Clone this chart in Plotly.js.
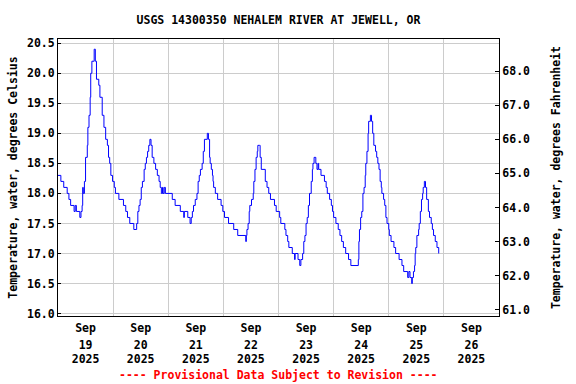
<!DOCTYPE html>
<html>
<head>
<meta charset="utf-8">
<script src="https://cdn.plot.ly/plotly-3.0.1.min.js"></script>
<style>html,body{margin:0;padding:0;background:#fff;}#chart{width:576px;height:384px;}</style>
</head>
<body>
<div id="chart"></div>
<script>
// Observation times (local) and water temperature, degrees Celsius
const times = [
"2025-09-19 00:00","2025-09-19 01:15","2025-09-19 02:30","2025-09-19 04:00","2025-09-19 04:45","2025-09-19 05:30",
"2025-09-19 07:00","2025-09-19 07:30","2025-09-19 08:00","2025-09-19 09:30","2025-09-19 10:00","2025-09-19 10:30",
"2025-09-19 10:45","2025-09-19 11:00","2025-09-19 11:30","2025-09-19 12:00","2025-09-19 12:45","2025-09-19 13:00",
"2025-09-19 13:30","2025-09-19 14:00","2025-09-19 14:15","2025-09-19 14:45","2025-09-19 15:45","2025-09-19 16:15",
"2025-09-19 16:45","2025-09-19 17:45","2025-09-19 18:15","2025-09-19 19:15","2025-09-19 20:00","2025-09-19 20:45",
"2025-09-19 21:30","2025-09-19 22:00","2025-09-19 22:30","2025-09-19 23:00","2025-09-19 23:45",
"2025-09-20 00:30","2025-09-20 01:00","2025-09-20 02:30","2025-09-20 04:30","2025-09-20 05:30","2025-09-20 06:15",
"2025-09-20 07:15","2025-09-20 09:00","2025-09-20 10:15","2025-09-20 10:45","2025-09-20 11:15","2025-09-20 11:45",
"2025-09-20 12:15","2025-09-20 12:45","2025-09-20 13:30","2025-09-20 14:00","2025-09-20 14:30","2025-09-20 15:00",
"2025-09-20 15:30","2025-09-20 16:00","2025-09-20 16:30","2025-09-20 17:00","2025-09-20 17:45","2025-09-20 18:30",
"2025-09-20 19:15","2025-09-20 20:00","2025-09-20 20:30","2025-09-20 21:00","2025-09-20 21:30","2025-09-20 21:45",
"2025-09-20 22:15","2025-09-20 22:45",
"2025-09-21 01:45","2025-09-21 03:00","2025-09-21 05:15","2025-09-21 06:45","2025-09-21 07:00","2025-09-21 08:30",
"2025-09-21 09:30","2025-09-21 10:00","2025-09-21 10:30","2025-09-21 11:00","2025-09-21 11:45","2025-09-21 12:30",
"2025-09-21 13:00","2025-09-21 13:30","2025-09-21 14:00","2025-09-21 14:45","2025-09-21 15:15","2025-09-21 15:45",
"2025-09-21 17:00","2025-09-21 17:30","2025-09-21 18:00","2025-09-21 18:15","2025-09-21 18:45","2025-09-21 19:15",
"2025-09-21 19:30","2025-09-21 19:45","2025-09-21 20:30","2025-09-21 21:30","2025-09-21 23:00","2025-09-21 23:45",
"2025-09-22 00:30","2025-09-22 02:15","2025-09-22 04:30","2025-09-22 06:15","2025-09-22 09:45","2025-09-22 10:00",
"2025-09-22 10:15","2025-09-22 10:45","2025-09-22 11:15","2025-09-22 11:30","2025-09-22 12:15","2025-09-22 13:00",
"2025-09-22 13:15","2025-09-22 13:45","2025-09-22 14:15","2025-09-22 14:45","2025-09-22 15:00","2025-09-22 15:45",
"2025-09-22 16:00","2025-09-22 16:30","2025-09-22 18:15","2025-09-22 19:00","2025-09-22 19:45","2025-09-22 20:30",
"2025-09-22 22:15","2025-09-22 23:00",
"2025-09-23 00:30","2025-09-23 01:00","2025-09-23 02:45","2025-09-23 03:15","2025-09-23 04:00","2025-09-23 04:30",
"2025-09-23 06:00","2025-09-23 07:00","2025-09-23 07:15","2025-09-23 08:30","2025-09-23 09:15","2025-09-23 09:45",
"2025-09-23 10:30","2025-09-23 11:00","2025-09-23 11:30","2025-09-23 12:00","2025-09-23 12:30","2025-09-23 13:00",
"2025-09-23 13:30","2025-09-23 14:15","2025-09-23 14:45","2025-09-23 15:00","2025-09-23 15:30","2025-09-23 16:15",
"2025-09-23 16:45","2025-09-23 17:15","2025-09-23 17:30","2025-09-23 18:30","2025-09-23 20:00","2025-09-23 20:45",
"2025-09-23 21:15","2025-09-23 22:15","2025-09-23 23:00","2025-09-23 23:30",
"2025-09-24 00:00","2025-09-24 01:00","2025-09-24 02:00","2025-09-24 02:45","2025-09-24 03:30","2025-09-24 04:15",
"2025-09-24 05:15","2025-09-24 06:30","2025-09-24 07:30","2025-09-24 10:45","2025-09-24 11:00","2025-09-24 11:15",
"2025-09-24 11:45","2025-09-24 12:15","2025-09-24 12:45","2025-09-24 13:15","2025-09-24 13:45","2025-09-24 14:00",
"2025-09-24 14:30","2025-09-24 15:00","2025-09-24 15:15","2025-09-24 16:00","2025-09-24 16:30","2025-09-24 17:00",
"2025-09-24 17:30","2025-09-24 18:15","2025-09-24 18:45","2025-09-24 19:15","2025-09-24 19:45","2025-09-24 20:15",
"2025-09-24 20:45","2025-09-24 21:00","2025-09-24 21:45","2025-09-24 22:15","2025-09-24 22:45","2025-09-24 23:15",
"2025-09-25 00:00","2025-09-25 00:15","2025-09-25 01:00","2025-09-25 02:15","2025-09-25 03:00","2025-09-25 04:30",
"2025-09-25 05:45","2025-09-25 06:30","2025-09-25 08:15","2025-09-25 08:45","2025-09-25 09:15","2025-09-25 10:00",
"2025-09-25 10:15","2025-09-25 10:45","2025-09-25 11:15","2025-09-25 11:30","2025-09-25 11:45","2025-09-25 12:15",
"2025-09-25 13:00","2025-09-25 13:15","2025-09-25 13:45","2025-09-25 14:15","2025-09-25 14:45","2025-09-25 15:00",
"2025-09-25 15:30","2025-09-25 16:00","2025-09-25 16:30","2025-09-25 17:15","2025-09-25 17:45","2025-09-25 18:30",
"2025-09-25 19:00","2025-09-25 19:30","2025-09-25 20:15","2025-09-25 21:00","2025-09-25 21:45"
];
const tempC = [
18.3,18.2,18.1,18.0,17.9,17.8,
17.7,17.8,17.7,17.6,17.7,17.8,
18.1,18.0,18.2,18.6,18.8,19.1,
19.3,19.6,20.0,20.2,20.4,20.2,
19.9,19.8,19.6,19.3,19.1,18.9,
18.8,18.6,18.5,18.3,18.2,
18.1,18.0,17.9,17.8,17.7,17.6,
17.5,17.4,17.5,17.7,17.8,17.9,
18.1,18.2,18.4,18.5,18.6,18.7,
18.8,18.9,18.8,18.6,18.5,18.4,
18.3,18.2,18.1,18.0,18.1,18.0,
18.1,18.0,
17.9,17.8,17.7,17.6,17.7,17.6,
17.5,17.6,17.7,17.8,17.9,18.0,
18.2,18.3,18.4,18.5,18.7,18.9,
19.0,18.9,18.6,18.5,18.4,18.3,
18.2,18.1,18.0,17.9,17.8,17.7,
17.6,17.5,17.4,17.3,17.2,17.3,
17.4,17.5,17.7,17.8,17.9,18.0,
18.2,18.4,18.6,18.7,18.8,18.8,
18.6,18.4,18.2,18.1,18.0,17.9,
17.8,17.7,
17.6,17.5,17.4,17.3,17.2,17.1,
17.0,16.9,17.0,16.9,16.8,16.9,
17.0,17.2,17.3,17.5,17.6,17.8,
18.0,18.2,18.4,18.5,18.6,18.5,
18.4,18.5,18.4,18.3,18.2,18.1,
18.0,17.9,17.8,17.7,
17.6,17.5,17.4,17.3,17.2,17.1,
17.0,16.9,16.8,16.9,17.2,17.4,
17.6,17.7,18.0,18.1,18.3,18.5,
18.7,19.0,19.2,19.3,19.2,19.0,
18.8,18.7,18.6,18.5,18.4,18.2,
18.1,18.0,17.9,17.8,17.6,17.5,
17.4,17.3,17.2,17.1,17.0,16.9,
16.8,16.7,16.6,16.7,16.6,16.5,
16.6,16.7,16.8,17.0,17.1,17.3,
17.4,17.5,17.7,17.9,18.0,18.1,
18.2,18.1,17.9,17.7,17.6,17.5,
17.4,17.3,17.2,17.1,17.0
];
const celsiusTicks = [16.0,16.5,17.0,17.5,18.0,18.5,19.0,19.5,20.0,20.5];
const fahrenheitTicks = [61,62,63,64,65,66,67,68];
const dateRange = ["2025-09-19 00:00", "2025-09-27 00:00"];
const dateLabelFormats = ["%b", "%d", "%Y"];   // three label rows: month, day, year
const chartTitle = "USGS 14300350 NEHALEM RIVER AT JEWELL, OR";
const leftTitle = "Temperature, water, degrees Celsius";
const rightTitle = "Temperature, water, degrees Fahrenheit";
const footNote = "---- Provisional Data Subject to Revision ----";

const FONT = "'DejaVu Sans Mono', 'Liberation Mono', monospace";
const baseFont = {family: FONT, size: 11.5, color: "#000", weight: "bold"};

const traces = [
  {x: times, y: tempC, type: "scatter", mode: "lines",
   line: {color: "#0000ff", width: 1, shape: "hv"}, hoverinfo: "skip", showlegend: false},
  {x: [times[0]], y: [fahrenheitTicks[0]], yaxis: "y2", type: "scatter", mode: "markers",
   marker: {opacity: 0}, hoverinfo: "skip", showlegend: false},
  {x: [times[0]], y: [tempC[0]], xaxis: "x2", type: "scatter", mode: "markers",
   marker: {opacity: 0}, hoverinfo: "skip", showlegend: false},
  {x: [times[0]], y: [tempC[0]], xaxis: "x3", type: "scatter", mode: "markers",
   marker: {opacity: 0}, hoverinfo: "skip", showlegend: false}
];

function dateAxis(fmt, standoff, extra) {
  return Object.assign({
    type: "date", range: dateRange,
    dtick: 86400000, tick0: dateRange[0], ticklabelmode: "period",
    tickformat: fmt, ticks: "", tickfont: baseFont, ticklabelstandoff: standoff,
    showgrid: false, zeroline: false, showline: false
  }, extra || {});
}

const layout = {
  width: 576, height: 384,
  margin: {l: 58, r: 77, t: 39, b: 68},
  paper_bgcolor: "#fff", plot_bgcolor: "#fff",
  font: baseFont,
  title: {text: chartTitle, font: baseFont, x: 0.5, xref: "paper", y: 1, yref: "container", yanchor: "top", pad: {t: 16}},
  xaxis: dateAxis(dateLabelFormats[0], 1, {
    showgrid: true, gridcolor: "#cccccc", gridwidth: 1,
    showline: true, linecolor: "#000", linewidth: 1, mirror: true
  }),
  xaxis2: dateAxis(dateLabelFormats[1], 20, {overlaying: "x", anchor: "y", side: "bottom"}),
  xaxis3: dateAxis(dateLabelFormats[2], 34, {overlaying: "x", anchor: "y", side: "bottom"}),
  yaxis: {
    range: [15.96, 20.57], tickvals: celsiusTicks, tickformat: ".1f",
    showgrid: true, gridcolor: "#cccccc", gridwidth: 1, zeroline: false,
    showline: true, linecolor: "#000", linewidth: 1, mirror: true,
    ticks: "inside", ticklen: 3, tickcolor: "#000",
    tickfont: baseFont,
    title: {text: leftTitle, font: baseFont, standoff: 6}
  },
  yaxis2: {
    overlaying: "y", side: "right", range: [60.82, 68.94], tickvals: fahrenheitTicks, tickformat: ".1f",
    showgrid: false, zeroline: false, showline: true, linecolor: "#000", linewidth: 1,
    ticks: "inside", ticklen: 4, tickcolor: "#000",
    tickfont: baseFont,
    title: {text: rightTitle, font: baseFont, standoff: 22}
  },
  annotations: [
    {text: footNote, xref: "paper", yref: "paper", x: 0.5, y: -0.213, xanchor: "center", yanchor: "middle",
     showarrow: false, font: {family: FONT, size: 11.5, color: "#ff0000", weight: "bold"}}
  ]
};

Plotly.newPlot("chart", traces, layout, {staticPlot: true, displayModeBar: false});
</script>
</body>
</html>
